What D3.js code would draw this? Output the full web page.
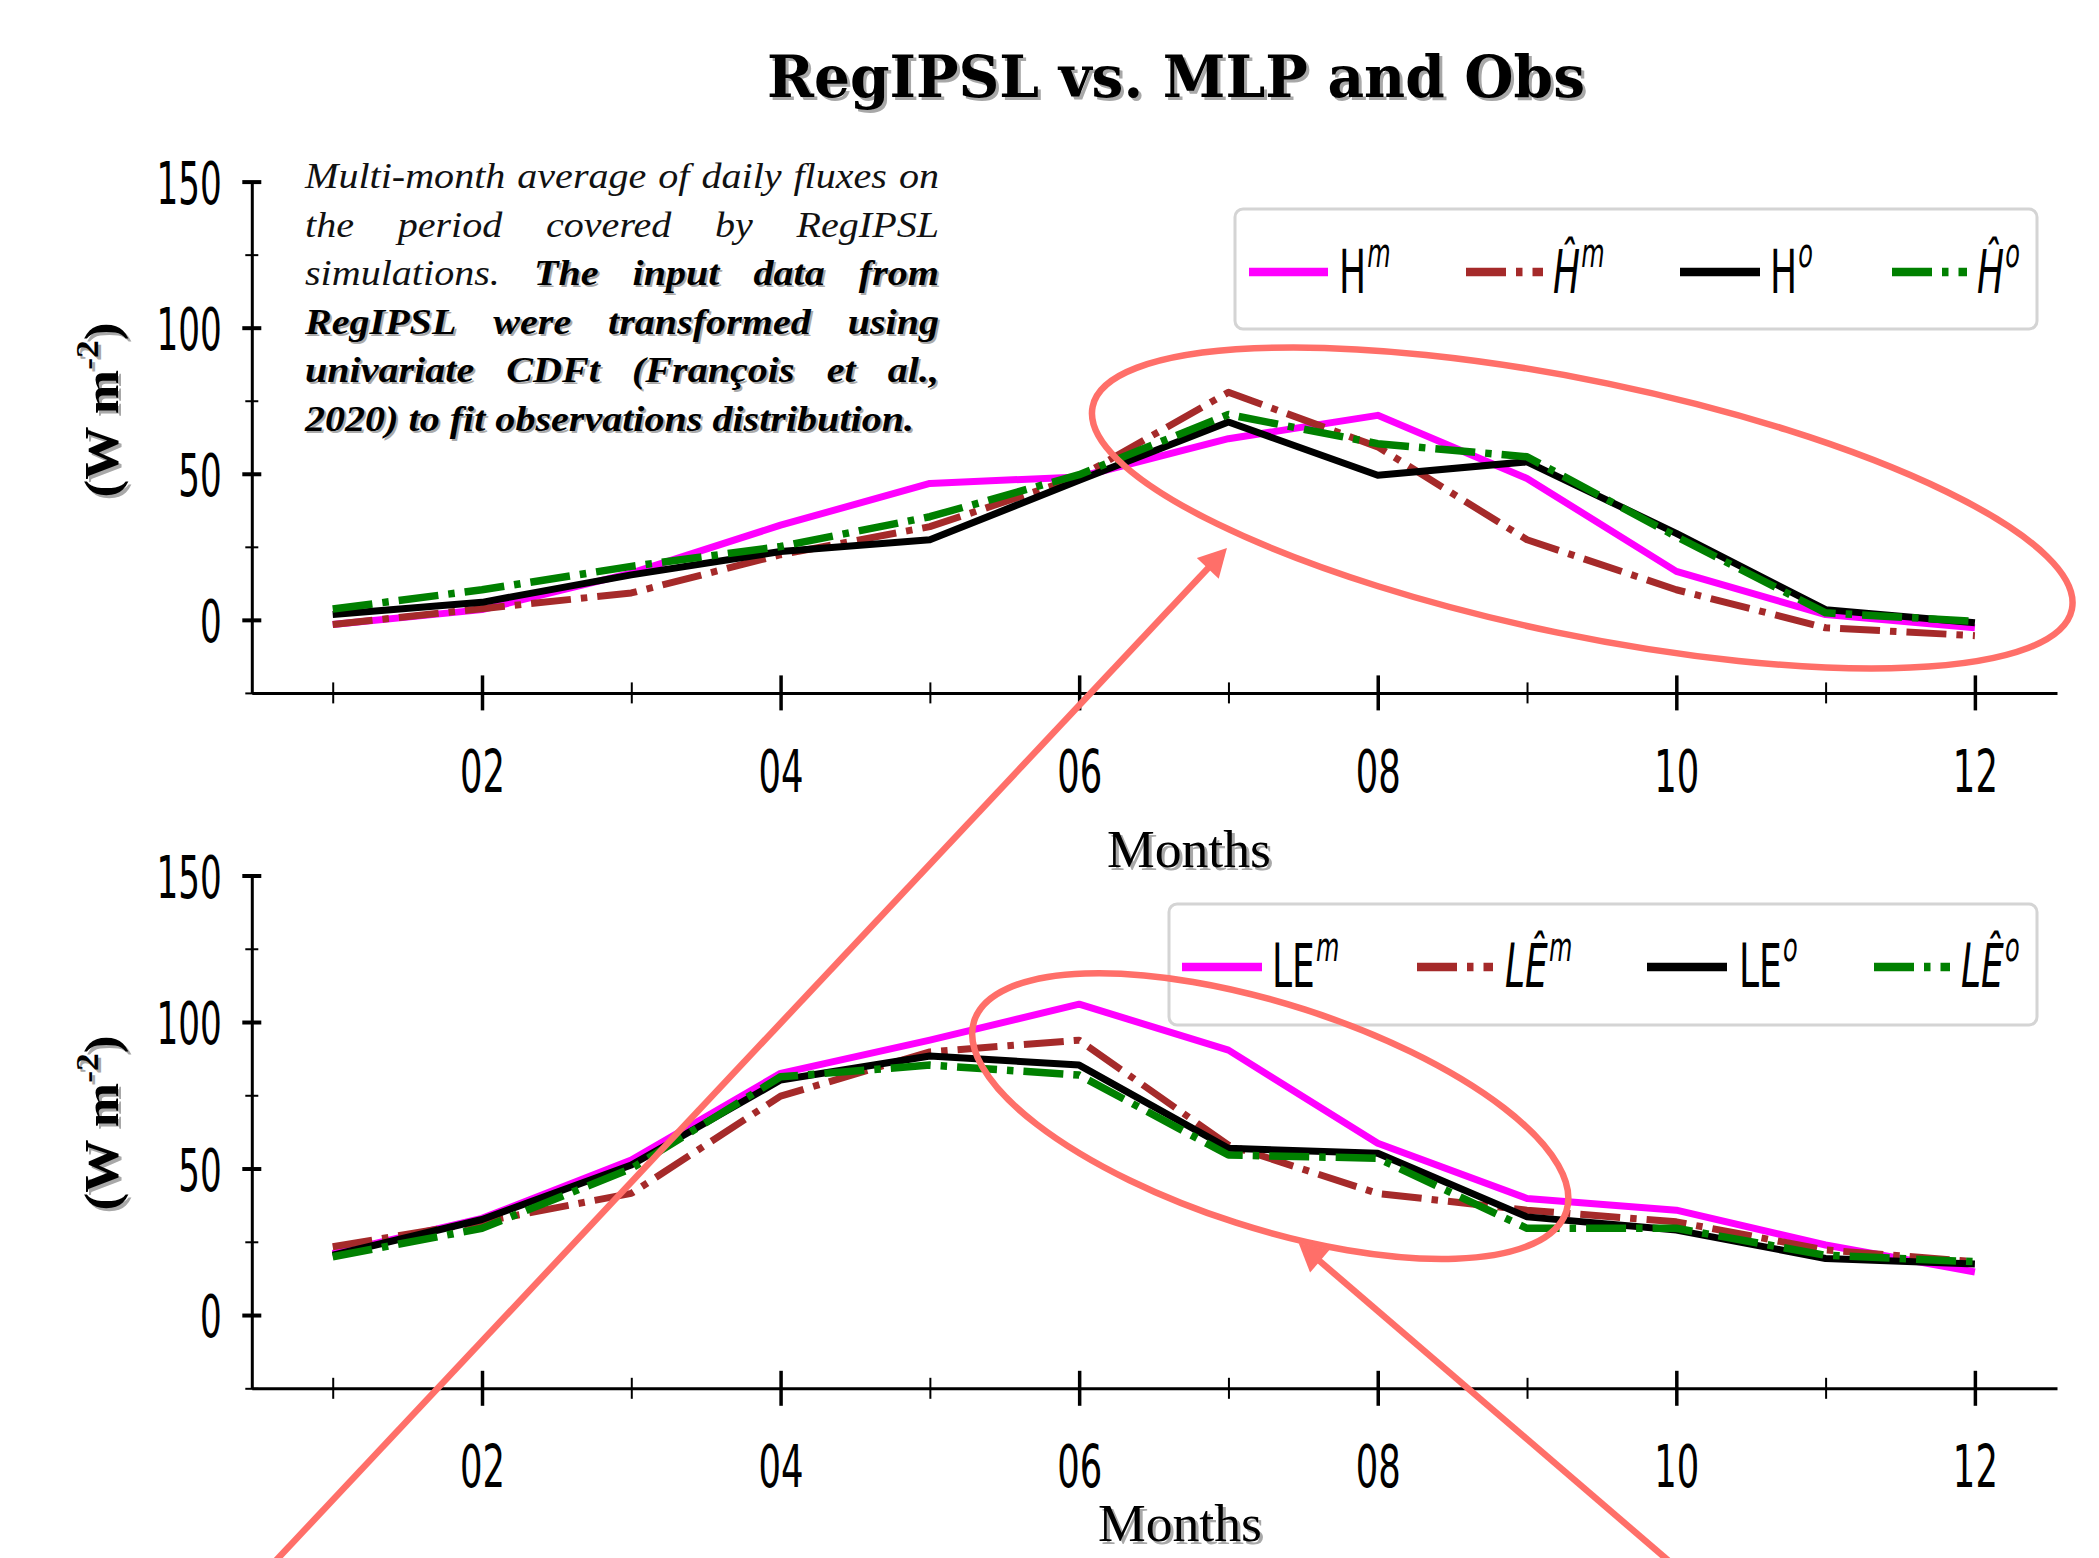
<!DOCTYPE html>
<html><head><meta charset="utf-8">
<script src="https://cdn.jsdelivr.net/npm/d3@7"></script>
<style>body{margin:0;background:#fff} svg{display:block}</style>
</head><body>
<svg id="c" width="2099" height="1558"></svg>
<script>
// ---------------- DATA ----------------
const months = [1,2,3,4,5,6,7,8,9,10,11,12];
const monthTickValues = [2,4,6,8,10,12];
const monthTickLabels = ["02","04","06","08","10","12"];
const monthMinorTicks = [1,3,5,7,9,11];
const yTickValues = [0,50,100,150];
const yTickLabels = ["0","50","100","150"];
const yMinorTicks = [-25,25,75,125];

const H_m     = [-1.6, 3.5, 16.0, 32.4, 46.7, 48.9, 62.0, 70.0, 48.4, 16.6, 1.8, -2.7];
const H_m_hat = [-1.6, 3.8,  9.2, 22.3, 31.9, 48.9, 77.9, 59.2, 27.4, 10.3, -2.7, -5.4];
const H_o     = [ 1.8, 6.0, 15.4, 23.4, 27.4, 47.8, 67.7, 49.5, 54.1, 29.6, 3.5, -1.0];
const H_o_hat = [ 3.7,10.3, 18.3, 25.1, 35.3, 49.7, 70.3, 60.3, 55.8, 28.5, 2.4, -0.5];

const LE_m     = [21.0, 33.0, 52.9, 82.5, 93.8,106.1, 90.4, 58.6, 39.8, 35.8, 23.9, 14.7];
const LE_m_hat = [23.3, 31.8, 41.5, 74.7, 89.8, 93.8, 58.0, 41.5, 35.8, 31.8, 22.2, 18.2];
const LE_o     = [20.4, 32.6, 51.2, 80.2, 88.4, 85.3, 56.9, 55.2, 33.5, 29.0, 19.3, 17.4];
const LE_o_hat = [19.9, 29.6, 50.0, 81.3, 85.3, 81.9, 54.6, 53.5, 29.6, 29.6, 20.4, 18.2];

const legendH  = [{base:"H", italic:false, sup:"m"},{base:"\u0124", italic:true, sup:"m"},
                  {base:"H", italic:false, sup:"o"},{base:"\u0124", italic:true, sup:"o"}];
const legendLE = [{base:"LE", italic:false, sup:"m"},{base:"L\u00CA", italic:true, sup:"m"},
                  {base:"LE", italic:false, sup:"o"},{base:"L\u00CA", italic:true, sup:"o"}];

const titleText = "RegIPSL vs. MLP and Obs";
const xLabelText = "Months";
const noteLines = [
  [["Multi-month average of daily fluxes on", false]],
  [["the period covered by RegIPSL", false]],
  [["simulations.", false], ["The input data from", true]],
  [["RegIPSL were transformed using", true]],
  [["univariate CDFt (François et al.,", true]],
  [["2020) to fit observations distribution.", true]]
];

// ---------------- STYLE / LAYOUT ----------------
const DASHDOT = "40,10,6.5,10";
const seriesStyle = [
  {color:"#ff00ff", dash:null, width:7},
  {color:"#a52a2a", dash:DASHDOT, width:7},
  {color:"#000000", dash:null, width:7},
  {color:"#008000", dash:DASHDOT, width:7.5}
];
const ANNO = "#ff6f69";
const SANS = "DejaVu Sans";
const SERIF = "Liberation Serif";

const svg = d3.select("#c");
const x = d3.scaleLinear().domain([0.458, 12.55]).range([251.8, 2057]);

const panels = [
  {series:[H_m,H_m_hat,H_o,H_o_hat], legend:legendH, yRange:[692.9,181.6],
   box:[1235,209,2037,329], lines:[[1249,1328],[1466,1543],[1680,1760],[1892,1967]],
   textX:[1339,1553,1770,1977], lineY:272, textY:293, xlabelY:867, xlabelX:1189, ylabelY:410},
  {series:[LE_m,LE_m_hat,LE_o,LE_o_hat], legend:legendLE, yRange:[1388.3,875.5],
   box:[1169,904,2037,1025], lines:[[1182,1262],[1417,1493],[1647,1727],[1874,1950]],
   textX:[1272,1505,1739,1961], lineY:967, textY:987, xlabelY:1541, xlabelX:1180, ylabelY:1123}
];

function squeeze(sel, f){
  sel.each(function(){
    const w = this.getComputedTextLength();
    d3.select(this).attr("textLength", w*f).attr("lengthAdjust","spacingAndGlyphs");
  });
}

panels.forEach(p => {
  const y = d3.scaleLinear().domain([-25,150]).range(p.yRange);
  p.y = y;
  const g = svg.append("g");

  // lines
  const line = d3.line().x((d,i)=>x(months[i])).y(d=>y(d));
  p.series.forEach((s,k) => {
    const st = seriesStyle[k];
    g.append("path").datum(s).attr("d", line)
      .attr("fill","none").attr("stroke",st.color).attr("stroke-width",st.width)
      .attr("stroke-linejoin","round")
      .attr("stroke-dasharray", st.dash);
  });

  // axes
  const x0 = p.yRange[0];
  const xAxis = d3.axisBottom(x).tickValues(monthTickValues)
     .tickFormat((d,i)=>monthTickLabels[i]).tickSizeOuter(0);
  const gx = g.append("g").attr("transform",`translate(0,${x0})`).call(xAxis);
  gx.select(".domain").attr("stroke-width",3);
  gx.selectAll(".tick line").attr("y1",-17.5).attr("y2",17.5).attr("stroke-width",3.5);
  gx.selectAll(".tick text").attr("font-family",SANS).attr("font-size",59)
     .attr("y",99).attr("dy",0).attr("fill","#000").call(squeeze,0.6);
  const gxm = g.append("g").attr("transform",`translate(0,${x0})`)
     .call(d3.axisBottom(x).tickValues(monthMinorTicks).tickFormat("").tickSizeOuter(0));
  gxm.select(".domain").remove();
  gxm.selectAll(".tick line").attr("y1",-10.5).attr("y2",10.5).attr("stroke-width",2);

  const yAxis = d3.axisLeft(y).tickValues(yTickValues)
     .tickFormat((d,i)=>yTickLabels[i]).tickSizeOuter(0);
  const gy = g.append("g").attr("transform",`translate(${x.range()[0]},0)`).call(yAxis);
  gy.select(".domain").attr("stroke-width",3);
  gy.selectAll(".tick line").attr("x1",9.5).attr("x2",-9.5).attr("stroke-width",4);
  gy.selectAll(".tick text").attr("font-family",SANS).attr("font-size",59)
     .attr("x",-30).attr("dy",21.5).attr("fill","#000").call(squeeze,0.58);
  const gym = g.append("g").attr("transform",`translate(${x.range()[0]},0)`)
     .call(d3.axisLeft(y).tickValues(yMinorTicks).tickFormat("").tickSizeOuter(0));
  gym.select(".domain").remove();
  gym.selectAll(".tick line").attr("x1",6.5).attr("x2",-6.5).attr("stroke-width",2);

  // x label with shadow
  [[3,3,"#a8a8a8"],[0,0,"#000"]].forEach(([dx,dy,c])=>{
    g.append("text").text(xLabelText).attr("x",p.xlabelX+dx).attr("y",p.xlabelY+dy)
      .attr("text-anchor","middle").attr("font-family",SERIF).attr("font-size",53)
      .attr("fill",c).attr("textLength",164).attr("lengthAdjust","spacingAndGlyphs");
  });
  // y label with shadow
  [[3,3,"#a8a8a8"],[0,0,"#000"]].forEach(([dx,dy,c])=>{
    const t = g.append("text").attr("transform",`translate(${118+dx},${p.ylabelY+dy}) rotate(-90)`)
      .attr("text-anchor","middle").attr("font-family",SERIF).attr("font-weight","bold")
      .attr("font-size",48).attr("fill",c);
    t.append("tspan").text("(W  m");
    t.append("tspan").text("-2").attr("font-size",32).attr("dy",-20);
    t.append("tspan").text(")").attr("dy",20);
    t.attr("textLength",175).attr("lengthAdjust","spacingAndGlyphs");
  });

  // legend
  const [bx0,by0,bx1,by1] = p.box;
  g.append("rect").attr("x",bx0).attr("y",by0).attr("width",bx1-bx0).attr("height",by1-by0)
    .attr("rx",8).attr("fill","#fff").attr("stroke","#d4d4d4").attr("stroke-width",3);
  p.legend.forEach((e,k)=>{
    const st = seriesStyle[k];
    g.append("line").attr("x1",p.lines[k][0]).attr("x2",p.lines[k][1])
      .attr("y1",p.lineY).attr("y2",p.lineY)
      .attr("stroke",st.color).attr("stroke-width",8.5)
      .attr("stroke-dasharray",st.dash);
    const lg = g.append("g").attr("transform",`translate(${p.textX[k]},${p.textY}) scale(0.6,1)`);
    const t = lg.append("text").attr("x",0).attr("y",0).attr("font-family",SANS).attr("fill","#000");
    t.append("tspan").text(e.base).attr("font-size",60).attr("font-style", e.italic ? "italic":"normal");
    t.append("tspan").text(e.sup).attr("font-size",40).attr("font-style","italic")
      .attr("dx",2).attr("dy",-26);
  });
});

// title with shadow
[[3,3,"#a8a8a8"],[0,0,"#000"]].forEach(([dx,dy,c])=>{
  svg.append("text").text(titleText).attr("x",767+dx).attr("y",97+dy)
    .attr("font-family","DejaVu Serif").attr("font-weight","bold").attr("font-size",57)
    .attr("fill",c).attr("textLength",818).attr("lengthAdjust","spacingAndGlyphs");
});

// justified note text
(function(){
  const left = 305, right = 939, base0 = 188, lh = 48.5, fs = 36;
  const words = noteLines.map(line => {
    const out = [];
    line.forEach(([txt,b]) => txt.split(" ").forEach(w => out.push({w, b})));
    return out;
  });
  const tmp = svg.append("text").attr("font-family",SERIF).attr("font-style","italic").attr("font-size",fs);
  const measure = (w,b) => { tmp.attr("font-weight", b?"bold":"normal").text(w); return tmp.node().getComputedTextLength(); };
  const spaceW = measure("a a",false)-2*measure("a",false);
  words.forEach(l => l.forEach(o => o.nat = measure(o.w,o.b)));
  const last = words[words.length-1];
  const lastNat = d3.sum(last,o=>o.nat) + spaceW*(last.length-1);
  const sx = (914-left)/lastNat;
  tmp.remove();
  words.forEach((l,li) => {
    const yb = base0 + li*lh;
    const tot = d3.sum(l,o=>o.nat*sx);
    const gap = (li < words.length-1) ? (right-left-tot)/(l.length-1) : spaceW*sx;
    let cx = left;
    l.forEach(o => {
      const layers = o.b ? [[2,2,"#aaaaaa"],[0,0,"#000"]] : [[0,0,"#111"]];
      layers.forEach(([dx,dy,c]) => {
        svg.append("text").text(o.w).attr("x",cx+dx).attr("y",yb+dy)
          .attr("font-family",SERIF).attr("font-style","italic")
          .attr("font-weight",o.b?"bold":"normal").attr("font-size",fs).attr("fill",c)
          .attr("textLength",o.nat*sx).attr("lengthAdjust","spacingAndGlyphs");
      });
      cx += o.nat*sx + gap;
    });
  });
})();

// annotations (positioned in data units of each panel)
const yT = panels[0].y, yB = panels[1].y;
const anno = svg.append("g").attr("fill","none").attr("stroke",ANNO).attr("stroke-width",6.5);
function ellipse(cxp, cyp, rx, ry, ang){
  anno.append("ellipse").attr("cx",cxp).attr("cy",cyp).attr("rx",rx).attr("ry",ry)
    .attr("transform",`rotate(${ang},${cxp},${cyp})`);
}
ellipse(x(9.37), yT(38.3), 500, 127, 11.7);
ellipse(x(7.28), yB(67.9), 311, 112, 17.8);
function arrow(x1,y1,x2,y2){
  const dx=x2-x1, dy=y2-y1, L=Math.hypot(dx,dy), ux=dx/L, uy=dy/L;
  const hl=28, hw=15;
  const bx=x2-ux*hl, by=y2-uy*hl;
  anno.append("line").attr("x1",x1).attr("y1",y1).attr("x2",bx+ux*2).attr("y2",by+uy*2);
  svg.append("polygon").attr("fill",ANNO)
    .attr("points",[[x2,y2],[bx-uy*hw,by+ux*hw],[bx+uy*hw,by-ux*hw]].map(p=>p.join(",")).join(" "));
}
arrow(x(0.56), yB(-87), x(6.99), yT(24.6));
arrow(x(10.02), yB(-87), x(7.47), yB(24.6));
</script>
</body></html>
